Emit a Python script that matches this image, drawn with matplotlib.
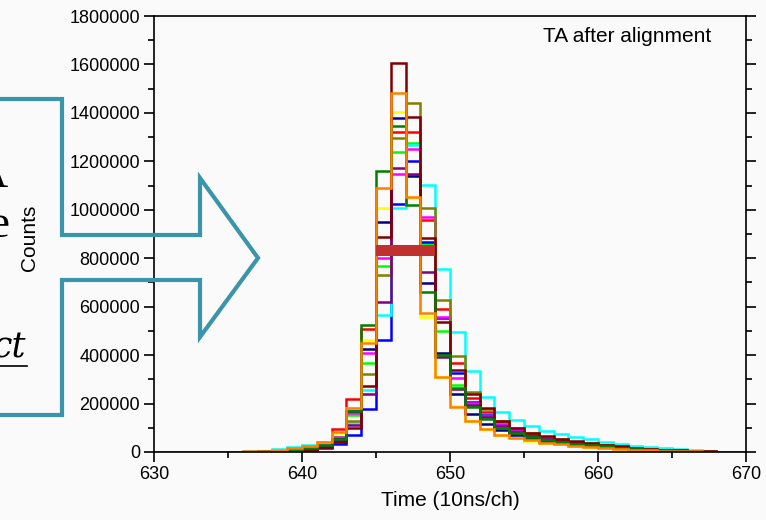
#!/usr/bin/env python3
import matplotlib
matplotlib.use("Agg")
import matplotlib.pyplot as plt
from matplotlib.lines import Line2D
from matplotlib.patches import Rectangle
from matplotlib.ticker import MultipleLocator, FuncFormatter
import numpy as np

# bin edges (channel numbers), 630..670
bin_edges = list(range(630, 671))

# counts per bin, in thousands, for bins 630..669
red_k = [0, 0, 0, 0, 1, 1, 2, 4, 7, 12, 20, 43, 94, 219, 507, 830, 1322, 1320, 958, 589,
         366, 222, 166, 122, 94, 74, 60, 49, 41, 34, 27, 21, 16, 12, 9, 6, 4, 2, 1, 0]
lime_k = [0, 0, 0, 0, 0, 1, 2, 3, 5, 8, 12, 30, 63, 152, 366, 769, 1239, 1276, 857, 500,
          277, 190, 140, 102, 79, 63, 51, 42, 35, 29, 23, 18, 14, 10, 7, 5, 3, 2, 1, 0]
blue_k = [0, 0, 0, 0, 0, 1, 1, 2, 4, 6, 8, 17, 33, 72, 177, 461, 1024, 1203, 868, 552,
          327, 208, 152, 112, 86, 68, 55, 45, 38, 31, 25, 20, 15, 11, 8, 6, 4, 2, 1, 0]
cyan_k = [0, 0, 0, 0, 1, 1, 3, 6, 12, 22, 29, 35, 50, 118, 256, 564, 1006, 1266, 1102, 755,
          497, 336, 228, 166, 132, 107, 87, 73, 63, 52, 43, 33, 26, 21, 16, 12, 8, 4, 2, 1]
magenta_k = [0, 0, 0, 0, 0, 1, 2, 3, 5, 8, 12, 28, 60, 160, 410, 802, 1149, 1251, 971, 556,
             304, 203, 150, 110, 85, 67, 54, 44, 37, 30, 24, 19, 14, 10, 7, 5, 3, 2, 1, 0]
yellow_k = [0, 0, 0, 0, 1, 1, 2, 4, 7, 11, 18, 40, 80, 180, 462, 1006, 1402, 1047, 556, 310,
            190, 130, 97, 72, 57, 46, 38, 31, 26, 21, 17, 13, 10, 8, 6, 4, 3, 2, 1, 0]
olive_k = [0, 0, 0, 0, 0, 1, 2, 3, 5, 8, 11, 26, 55, 129, 322, 731, 1296, 1442, 1006, 628,
           396, 249, 178, 130, 98, 78, 63, 52, 43, 36, 29, 23, 18, 14, 10, 7, 5, 3, 2, 1]
navy_k = [0, 0, 0, 0, 1, 1, 2, 3, 5, 8, 12, 25, 52, 170, 424, 951, 1379, 1140, 697, 407,
          238, 156, 115, 91, 70, 56, 45, 37, 31, 25, 20, 16, 12, 9, 7, 5, 3, 2, 1, 0]
purple_k = [0, 0, 0, 0, 0, 1, 1, 2, 4, 7, 10, 22, 45, 110, 240, 618, 1171, 1146, 742, 393,
            262, 192, 146, 107, 83, 66, 54, 44, 37, 30, 24, 19, 14, 10, 7, 5, 3, 2, 1, 0]
maroon_k = [0, 0, 0, 0, 0, 1, 1, 2, 4, 7, 10, 22, 43, 99, 274, 889, 1605, 1384, 882, 538,
            339, 238, 180, 128, 100, 80, 65, 53, 44, 36, 29, 23, 18, 13, 10, 7, 5, 3, 2, 1]
green_k = [0, 0, 0, 0, 1, 1, 2, 4, 6, 10, 15, 29, 54, 168, 524, 1160, 1345, 1020, 662, 400,
           265, 187, 135, 100, 77, 61, 50, 41, 34, 28, 23, 18, 14, 10, 7, 5, 3, 2, 1, 0]
orange_k = [0, 0, 0, 0, 1, 2, 3, 5, 9, 15, 25, 43, 84, 182, 451, 1089, 1481, 1054, 575, 311,
            186, 128, 97, 72, 58, 48, 39, 32, 26, 21, 17, 13, 10, 8, 6, 4, 3, 2, 1, 0]

# FWHM marker bar
fwhm_x = [645, 649]
fwhm_y = [810000, 855000]

series = [
    (red_k, "#ff0000"),
    (lime_k, "#00ff00"),
    (blue_k, "#0000ff"),
    (cyan_k, "#00ffff"),
    (magenta_k, "#ff00ff"),
    (yellow_k, "#ffff00"),
    (olive_k, "#808000"),
    (navy_k, "#000080"),
    (purple_k, "#800080"),
    (maroon_k, "#800000"),
    (green_k, "#008000"),
    (orange_k, "#ff8000"),
]

W, H = 766, 520
BG = "#fafafa"
TEAL = "#3a95aa"


def fx(px):
    return px / W


def fy(py):
    return 1 - py / H


fig = plt.figure(figsize=(W / 100, H / 100), dpi=100, facecolor=BG)
ax = fig.add_axes([fx(154), fy(452), fx(746) - fx(154), fy(16) - fy(452)])
ax.set_facecolor(BG)

for counts, color in series:
    ax.stairs(np.array(counts) * 1000, bin_edges, color=color, lw=1.8, baseline=None)

ax.add_patch(Rectangle((fwhm_x[0], fwhm_y[0]), fwhm_x[1] - fwhm_x[0], fwhm_y[1] - fwhm_y[0],
                       facecolor="#c0302e", edgecolor="none", zorder=5))

ax.set_xlim(630, 670)
ax.set_ylim(0, 1800000)
ax.xaxis.set_major_locator(MultipleLocator(10))
ax.xaxis.set_minor_locator(MultipleLocator(5))
ax.yaxis.set_major_locator(MultipleLocator(200000))
ax.yaxis.set_minor_locator(MultipleLocator(100000))
ax.yaxis.set_major_formatter(FuncFormatter(lambda v, p: f"{int(v)}"))

font = "Liberation Sans"
for lab in ax.get_xticklabels() + ax.get_yticklabels():
    lab.set_fontfamily(font)
ax.tick_params(which="both", direction="out", width=1.2, labelsize=13, pad=3)
ax.tick_params(which="major", length=7)
ax.tick_params(which="minor", length=4)
ax.tick_params(axis="y", which="both", right=True)
ax.tick_params(axis="y", which="both", length=2.5, left=False, right=True, labelleft=False)
ax.tick_params(axis="y", which="major", left=True, labelleft=True, length=7)
ax.tick_params(axis="y", which="minor", left=True, length=4)
for lab in ax.get_xticklabels() + ax.get_yticklabels():
    lab.set_fontfamily(font)
for sp in ax.spines.values():
    sp.set_linewidth(1.2)

ax.text(0.799, 0.954, "TA after alignment", transform=ax.transAxes, ha="center", va="center",
        fontsize=15, family=font)
fig.text(fx(450), fy(500), "Time (10ns/ch)", ha="center", va="center", fontsize=15, family=font)
fig.text(fx(30), fy(238), "Counts", ha="center", va="center", rotation=90, fontsize=15, family=font)

# slide overlay: arrow outline
arrow_x = [0, 62, 62, 200, 200, 258, 200, 200, 62, 62, 0]
arrow_y = [99, 99, 235, 235, 178, 258, 337, 280, 280, 415, 415]
fig.add_artist(Line2D([fx(v) for v in arrow_x], [fy(v) for v in arrow_y], color=TEAL, lw=3,
                      solid_joinstyle="miter", zorder=10))

# slide text fragments cut off at the left edge
fig.text(fx(8), fy(187), "A", ha="right", va="baseline", fontsize=34, family="Liberation Serif")
fig.text(fx(9), fy(237), "e", ha="right", va="baseline", fontsize=34, family="Liberation Serif")
fig.text(fx(26), fy(357), "ct", ha="right", va="baseline", fontsize=25, family="DejaVu Serif",
         style="italic")
fig.add_artist(Line2D([fx(0), fx(27)], [fy(366), fy(366)], color="black", lw=1.2))

fig.savefig("out.png", dpi=100, facecolor=BG)
